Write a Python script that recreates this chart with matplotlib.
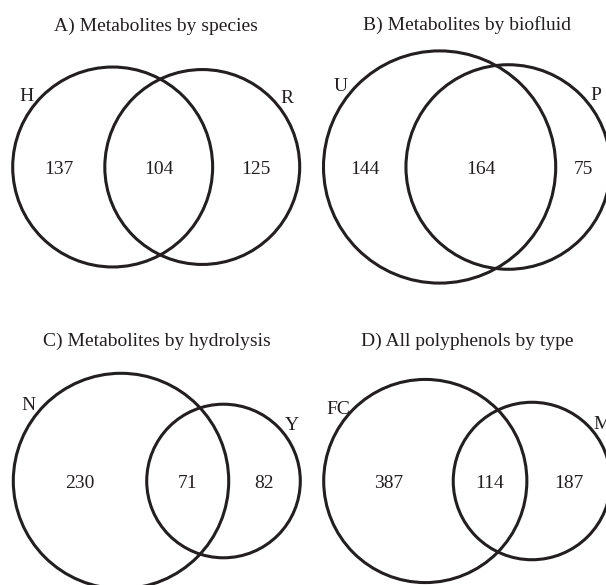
import numpy as np
import matplotlib
matplotlib.use("Agg")
import matplotlib.pyplot as plt
from matplotlib.patches import Circle

# ---- data ----
panel_titles = ["A) Metabolites by species", "B) Metabolites by biofluid",
                "C) Metabolites by hydrolysis", "D) All polyphenols by type"]
left_names = ["H", "U", "N", "FC"]
right_names = ["R", "P", "Y", "M"]
only_left = [137, 144, 230, 387]
both = [104, 164, 71, 114]
only_right = [125, 75, 82, 187]

# ---- layout (pixels) ----
W, H = 606, 585
panel_left = [12.7, 323.5, 13.3, 323.7]
panel_cy = [167, 167, 481, 481]
panel_title_y = [31, 29.5, 345.5, 345.5]
bbox_w = 287.0
cat_gap = 12.5
ink = "#231f20"
FONT = "Liberation Serif"
FS = 14


def lens_area(r1, r2, d):
    if d >= r1 + r2:
        return 0.0
    if d <= abs(r1 - r2):
        return np.pi * min(r1, r2) ** 2
    a1 = np.arccos((d * d + r1 * r1 - r2 * r2) / (2 * d * r1))
    a2 = np.arccos((d * d + r2 * r2 - r1 * r1) / (2 * d * r2))
    k = np.sqrt((-d + r1 + r2) * (d + r1 - r2) * (d - r1 + r2) * (d + r1 + r2))
    return r1 * r1 * a1 + r2 * r2 * a2 - 0.5 * k


def solve_d(r1, r2, target):
    lo, hi = abs(r1 - r2), r1 + r2
    for _ in range(200):
        mid = 0.5 * (lo + hi)
        if lens_area(r1, r2, mid) > target:
            lo = mid
        else:
            hi = mid
    return 0.5 * (lo + hi)


fig = plt.figure(figsize=(W / 100, H / 100), dpi=100)
ax = fig.add_axes([0, 0, 1, 1])
ax.set_xlim(0, W)
ax.set_ylim(H, 0)
ax.set_aspect("equal")
ax.axis("off")

for i in range(4):
    a1 = only_left[i] + both[i]
    a2 = only_right[i] + both[i]
    r1 = np.sqrt(a1 / np.pi)
    r2 = np.sqrt(a2 / np.pi)
    d = solve_d(r1, r2, both[i])
    s = bbox_w / (r1 + d + r2)
    R1, R2, D = r1 * s, r2 * s, d * s
    x0 = panel_left[i]
    cy = panel_cy[i]
    c1 = x0 + R1
    c2 = c1 + D
    for cx, rr in ((c1, R1), (c2, R2)):
        ax.add_patch(Circle((cx, cy), rr, fill=False, lw=2.2, ec=ink, clip_on=False))
    # area labels
    l1, rgt1 = c1 - R1, c1 + R1
    l2, rgt2 = c2 - R2, c2 + R2
    kw = dict(ha="center", va="center_baseline", fontsize=FS, family=FONT, color=ink)
    ax.text((l1 + l2) / 2, cy + 1, str(only_left[i]), **kw)
    ax.text((l2 + rgt1) / 2, cy + 1, str(both[i]), **kw)
    ax.text((rgt1 + rgt2) / 2, cy + 1, str(only_right[i]), **kw)
    # category labels at +-50 degrees from top
    ang = np.deg2rad(50)
    ax.text(c1 - (R1 + cat_gap) * np.sin(ang), cy - (R1 + cat_gap) * np.cos(ang),
            left_names[i], **kw)
    ax.text(c2 + (R2 + cat_gap) * np.sin(ang), cy - (R2 + cat_gap) * np.cos(ang),
            right_names[i], **kw)
    # title
    ax.text(x0 + bbox_w / 2, panel_title_y[i], panel_titles[i], ha="center",
            va="baseline", fontsize=FS, family=FONT, color=ink)

fig.savefig("out.png", dpi=100)
